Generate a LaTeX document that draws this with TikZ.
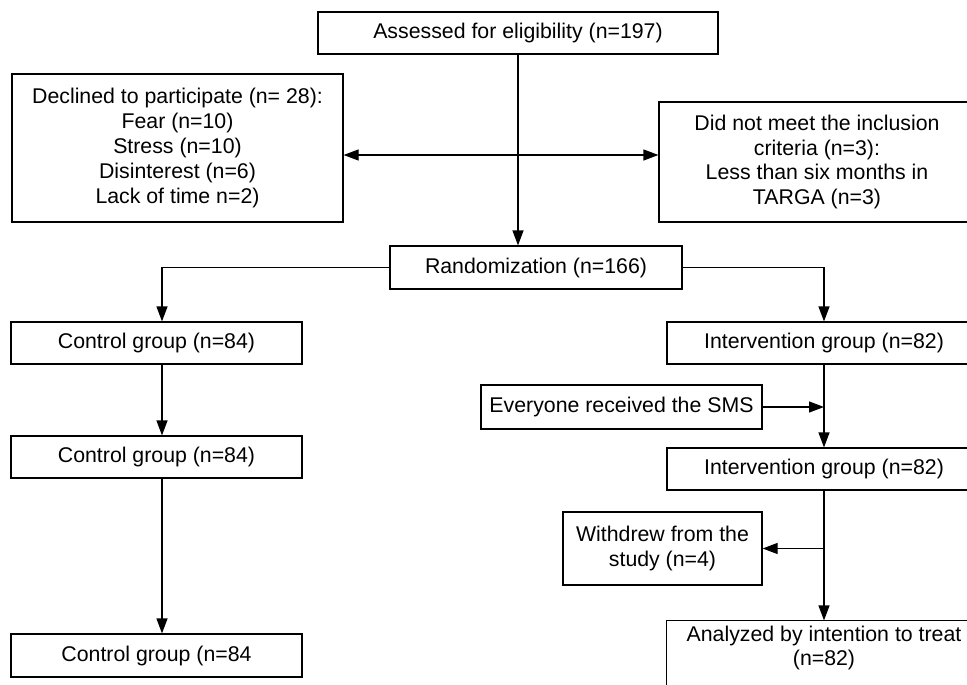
\documentclass[tikz,border=0pt]{standalone}
\usepackage{fontspec}
\setmainfont{Liberation Sans}
\usetikzlibrary{arrows.meta}
\begin{document}
\begin{tikzpicture}[x=1pt,y=-1pt,
  box/.style={draw,line width=1.2pt,rectangle,align=center,inner sep=0pt,
    font=\fontsize{21.3}{24.8}\selectfont},
  arr/.style={line width=1.2pt,-{Triangle[length=15pt,width=11pt]}},
  darr/.style={line width=1.2pt,{Triangle[length=15pt,width=11pt]}-{Triangle[length=15pt,width=11pt]}}]
\useasboundingbox (0,0) rectangle (967,685);
\clip (0,0) rectangle (967,685);
\node[box,minimum width=400pt,minimum height=42pt] (A) at (518,33) {Assessed for eligibility (n=197)};
\node[box,minimum width=331pt,minimum height=148pt] (D) at (177.5,148) {Declined to participate (n= 28):\\Fear (n=10)\\Stress (n=10)\\Disinterest (n=6)\\Lack of time n=2)};
\node[box,minimum width=316pt,minimum height=120pt] (N) at (817,162) {Did not meet the inclusion\\criteria (n=3):\\Less than six months in\\TARGA (n=3)};
\node[box,minimum width=292pt,minimum height=43pt] (R) at (536,267.5) {Randomization (n=166)};
\node[box,minimum width=291pt,minimum height=42pt] (C1) at (156.5,343) {Control group (n=84)};
\node[box,minimum width=314pt,minimum height=42pt] (I1) at (824,343) {Intervention group (n=82)};
\node[box,minimum width=281pt,minimum height=44pt] (S) at (621.5,407) {Everyone received the SMS};
\node[box,minimum width=291pt,minimum height=42pt] (C2) at (156.5,457) {Control group (n=84)};
\node[box,minimum width=314pt,minimum height=42pt] (I2) at (824,469) {Intervention group (n=82)};
\node[box,minimum width=199pt,minimum height=73pt] (W) at (662.5,548.5) {Withdrew from the\\study (n=4)};
\node[box,minimum width=291pt,minimum height=43pt] (C3) at (156.5,655.5) {Control group (n=84};
\node[box,draw=none,minimum width=314pt,minimum height=54pt] (AN) at (824,648) {Analyzed by intention to treat\\(n=82)};
\draw[line width=1.2pt] ([yshift=-40pt]AN.south west) -- (AN.north west) -- (AN.north east) -- ([yshift=-40pt]AN.south east);
\coordinate (cx) at (162,0);
\coordinate (mid) at (518,155);
\draw[arr] (A.south) -- (A.south |- R.north);
\draw[darr] (D.east |- mid) -- (N.west |- mid);
\draw[arr] (R.west) -| (C1.north -| cx);
\draw[arr] (R.east) -| (I1.north);
\draw[arr] (C1.south -| cx) -- (C2.north -| cx);
\draw[arr] (C2.south -| cx) -- (C3.north -| cx);
\draw[arr] (I1.south) -- (I2.north);
\draw[arr] (S.east) -- (S.east -| I1.south);
\draw[arr] (I2.south) -- (AN.north);
\draw[arr] (W.east -| I2.south) -- (W.east);
\end{tikzpicture}
\end{document}
